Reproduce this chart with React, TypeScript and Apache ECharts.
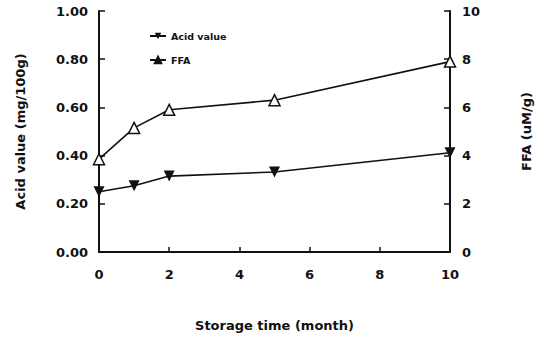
import React, { useEffect, useRef } from "react";
import * as echarts from "echarts";

const months = [0, 1, 2, 5, 10];
const acidValue = [0.25, 0.275, 0.315, 0.332, 0.412];
const ffa = [3.85, 5.15, 5.9, 6.3, 7.9];
const xTicks = [0, 2, 4, 6, 8, 10];

export default function App() {
  const ref = useRef<HTMLDivElement>(null);
  useEffect(() => {
    if (!ref.current) return;
    const chart = echarts.init(ref.current, null, { renderer: "svg" });
    const font = "DejaVu Sans, Arial, sans-serif";
    const axisLabel = { color: "#111", fontFamily: font, fontWeight: "bold" as const, fontSize: 13 };
    chart.setOption({
      animation: false,
      backgroundColor: "#fff",
      grid: { left: 99, right: 90, top: 11, bottom: 81, containLabel: false },
      legend: {
        orient: "vertical",
        left: 144,
        top: 26,
        itemGap: 14,
        itemWidth: 16,
        itemHeight: 8,
        textStyle: { color: "#111", fontFamily: font, fontWeight: "bold", fontSize: 9.5 },
        data: [
          { name: "Acid value", itemStyle: { color: "#111" } },
          { name: "FFA", itemStyle: { color: "#111", borderColor: "#111" } },
        ],
      },
      xAxis: {
        type: "value",
        min: 0,
        max: 10,
        interval: 2,
        name: "Storage time (month)",
        nameLocation: "middle",
        nameGap: 67,
        nameTextStyle: { ...axisLabel },
        axisLine: { show: true, lineStyle: { color: "#111", width: 2 } },
        axisTick: { show: true, inside: true, length: 5, lineStyle: { color: "#111", width: 1.5 } },
        axisLabel: { ...axisLabel, margin: 16, formatter: (v: number) => (xTicks.includes(v) ? String(v) : "") },
        splitLine: { show: false },
      },
      yAxis: [
        {
          type: "value",
          min: 0,
          max: 1,
          interval: 0.2,
          name: "Acid value (mg/100g)",
          nameLocation: "middle",
          nameGap: 72,
          nameTextStyle: { ...axisLabel },
          axisLine: { show: true, lineStyle: { color: "#111", width: 2 } },
          axisTick: { show: true, inside: true, length: 6, lineStyle: { color: "#111", width: 1.5 } },
          axisLabel: { ...axisLabel, margin: 11, formatter: (v: number) => v.toFixed(2) },
          splitLine: { show: false },
        },
        {
          type: "value",
          min: 0,
          max: 10,
          interval: 2,
          position: "right",
          name: "FFA (uM/g)",
          nameLocation: "middle",
          nameGap: 70,
          nameRotate: 90,
          nameTextStyle: { ...axisLabel },
          axisLine: { show: true, lineStyle: { color: "#111", width: 2 } },
          axisTick: { show: true, inside: true, length: 6, lineStyle: { color: "#111", width: 1.5 } },
          axisLabel: { ...axisLabel, margin: 12 },
          splitLine: { show: false },
        },
      ],
      series: [
        {
          name: "Acid value",
          type: "line",
          yAxisIndex: 0,
          data: months.map((m, i) => [m, acidValue[i]]),
          symbol: "triangle",
          symbolRotate: 180,
          symbolSize: 11,
          lineStyle: { color: "#111", width: 1.6 },
          itemStyle: { color: "#111" },
        },
        {
          name: "FFA",
          type: "line",
          yAxisIndex: 1,
          data: months.map((m, i) => [m, ffa[i]]),
          symbol: "triangle",
          symbolSize: 11,
          lineStyle: { color: "#111", width: 1.6 },
          itemStyle: { color: "#fff", borderColor: "#111", borderWidth: 1.5 },
        },
      ],
    });
    return () => chart.dispose();
  }, []);
  return <div ref={ref} style={{ width: 541, height: 337, position: "absolute", left: 0, top: 0 }} />;
}
